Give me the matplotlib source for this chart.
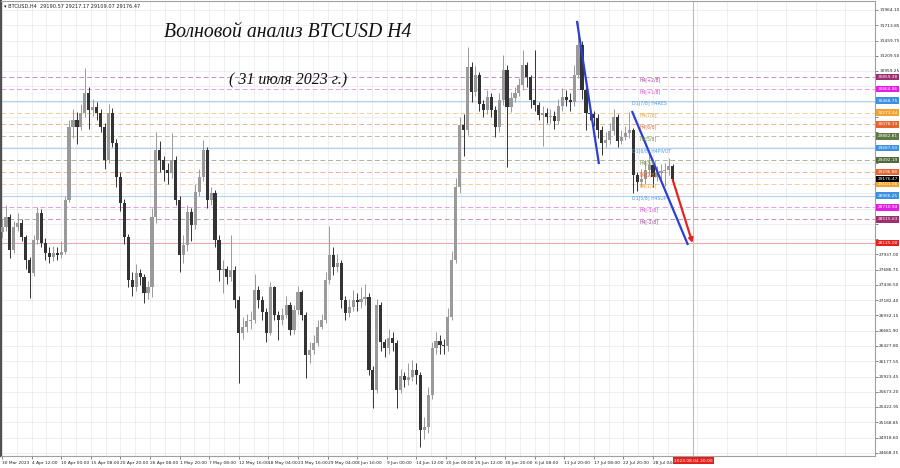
import numpy as np
import matplotlib
matplotlib.use("Agg")
import matplotlib.pyplot as plt
from matplotlib.transforms import blended_transform_factory

# H4 candles, one slot ~ 4.4 H4 bars
first_open = 28300
closes = [
    28388, 28553, 28009, 28388, 28454, 28223, 27844, 27630, 28174, 28619,
    28124, 27960, 27894, 27960, 27930, 27980, 28833, 30036, 30151, 30036,
    30267, 30596, 30316, 30366, 30267, 30036, 29492, 30267, 29772, 29212,
    28784, 28223, 27515, 27399, 27630, 27564, 27300, 27399, 28553, 29657,
    29492, 29327, 29278, 29492, 28833, 27927, 28091, 28635, 28421, 28965,
    29212, 29657, 28833, 28948, 28174, 27679, 27700, 27564, 27679, 27185,
    26641, 26740, 26839, 26855, 27350, 27185, 26987, 26641, 27399, 26938,
    26855, 26938, 27103, 26691, 27020, 27317, 26938, 26279, 26361, 26476,
    26740, 26855, 27515, 27927, 27729, 27795, 27185, 26971, 27070, 27185,
    27152, 27200, 27234, 26031, 25702, 27103, 26493, 26394, 26559, 26476,
    25702, 25933, 25867, 25916, 26031, 25949, 25043, 25090, 25619, 26394,
    26509, 26443, 26420, 26905, 27844, 29047, 30069, 29987, 31025, 30613,
    30893, 30415, 30316, 30530, 30316, 30036, 30481, 30975, 30366, 30514,
    30596, 30728, 31058, 30860, 30481, 30399, 30234, 30267, 30201, 30220,
    30135, 30382, 30530, 30481, 30440, 30893, 31387, 30646, 30267, 30250,
    30184, 29987, 29772, 29822, 29970, 30201, 29805, 29871, 29937, 29987,
    29245, 29130, 29179, 29327, 29410, 29212, 29278, 29311, 29327, 29393,
    29176,
]
highs = [
    28520, 28750, 28600, 28480, 28620, 28520, 28260, 27900, 28250, 28720,
    28680, 28200, 28050, 28080, 28050, 28150, 28900, 30150, 30330, 30280,
    30420, 31010, 30700, 30500, 30450, 30330, 30100, 30420, 30350, 29830,
    29300, 28850, 28280, 27650, 27780, 27700, 27620, 27500, 28700, 29960,
    29800, 29560, 29450, 29940, 29550, 28900, 28250, 28750, 28700, 29100,
    29350, 29820, 29700, 29050, 29000, 28250, 27850, 27750, 28250, 27750,
    27250, 26900, 26950, 27000, 27620, 27420, 27250, 27050, 27480, 27420,
    27000, 27050, 27250, 27150, 27100, 27420, 27350, 26980, 26500, 26600,
    26850, 26950, 27650, 28400, 28050, 27950, 27850, 27250, 27200, 27350,
    27300, 27400, 27450, 27300, 26100, 27200, 27150, 26550, 26700, 26650,
    26520, 26050, 26000, 26150, 26200, 26150, 26000, 25250, 25750, 26500,
    26650, 26600, 26550, 27050, 28000, 29200, 30200, 30250, 31350, 31100,
    31040, 30950, 30480, 30650, 30600, 30380, 30600, 31220, 31050, 30620,
    30700, 30850, 31300, 31100, 30900, 31300, 30450, 30380, 30350, 30330,
    30300, 30500, 30680, 30650, 30600, 31050, 31770, 31450, 30700, 30380,
    30300, 30250, 30050, 29950, 30100, 30330, 30250, 29980, 30050, 30280,
    30020, 29300, 29350, 29500, 29650, 29450, 29400, 29420, 29450, 29530,
    29420,
]
lows = [
    28200, 28330, 27880, 27960, 28330, 28150, 27700, 27220, 27580, 28100,
    28050, 27850, 27790, 27820, 27850, 27880, 27950, 28800, 29850, 29750,
    29980, 30200, 30000, 30220, 30150, 29950, 29350, 29450, 29700, 29050,
    28650, 28100, 27400, 27250, 27330, 27430, 27130, 27200, 27240, 28450,
    29300, 29150, 29100, 29200, 28750, 27650, 27800, 28000, 28150, 28350,
    28900, 29150, 28700, 28750, 28050, 27500, 27300, 27450, 27500, 27050,
    25820, 26550, 26650, 26700, 26800, 27050, 26850, 26500, 26600, 26850,
    26530, 26780, 26880, 26600, 26620, 26950, 26850, 25900, 26150, 26300,
    26420, 26700, 26800, 27450, 27600, 27650, 27050, 26850, 26900, 27000,
    27000, 27050, 27100, 25950, 25400, 25650, 26350, 26250, 26300, 26350,
    25400, 25650, 25750, 25780, 25850, 25800, 24760, 24900, 25000, 25550,
    26300, 26300, 26300, 26350, 26850, 27800, 28950, 29560, 29900, 30450,
    30550, 30300, 30200, 30250, 30200, 29870, 29950, 30400, 29380, 30280,
    30450, 30550, 30650, 30700, 30350, 30300, 30150, 29720, 30100, 30100,
    30000, 30080, 30300, 30380, 30300, 30380, 30850, 30500, 29980, 30150,
    30050, 29850, 29580, 29700, 29750, 29900, 29700, 29750, 29820, 29850,
    28950, 28980, 29050, 29100, 29250, 29040, 29150, 29180, 29060, 29250,
    29110,
]

date_labels = [
    "30 Mar 2023", "4 Apr 12:00", "10 Apr 00:00", "15 Apr 08:00", "20 Apr 20:00",
    "26 Apr 08:00", "1 May 20:00", "7 May 08:00", "12 May 16:00", "18 May 04:00",
    "23 May 16:00", "29 May 04:00", "3 Jun 16:00", "9 Jun 00:00", "14 Jun 12:00",
    "20 Jun 00:00", "25 Jun 12:00", "30 Jun 20:00", "6 Jul 08:00", "11 Jul 20:00",
    "17 Jul 08:00", "22 Jul 20:00", "28 Jul 04:00",
]
price_ticks = [
    31964.10, 31713.85, 31459.75, 31209.50, 30959.25, 30705.15, 30454.90,
    30204.65, 29950.55, 29700.30, 29446.20, 29195.95, 28945.70, 28691.60,
    28441.35, 28191.10, 27937.00, 27686.75, 27436.50, 27182.40, 26932.15,
    26681.90, 26427.80, 26177.55, 25923.45, 25673.20, 25422.95, 25168.85,
    24918.60, 24668.35,
]

# Murrey levels
level_prices = [30859.38, 30664.06, 30468.75, 30273.44, 30078.13, 29882.81,
                29687.50, 29492.19, 29296.88, 29101.56, 28906.25, 28710.94,
                28515.63]
level_names = ["H4[+2/8]", "H4[+1/8]", "D1[7/8] H4RES", "H4[7/8]", "H4[6/8]",
               "H4[5/8]", "D1[6/8] H4PIVOT", "H4[3/8]", "H4[2/8]", "H4[1/8]",
               "D1[5/8] H4SUP", "H4[-1/8]", "H4[-2/8]"]
level_box = ["#9c2f6f", "#e41fe4", "#3d8fe0", "#f2a232", "#e5652e", "#5c7a44",
             "#3d8fe0", "#4f6b3c", "#e5652e", "#f2a232", "#3d8fe0", "#e41fe4",
             "#9c2f6f"]
level_line = ["#c890b4", "#e79be7", "#b2d2ee", "#f3cf98", "#eeb293", "#b7c0a0",
              "#b2d2ee", "#aab49c", "#eeb293", "#f3cf98", "#b2d2ee", "#e79be7",
              "#c890b4"]
level_text = ["#a0449a", "#d548d5", "#4a98e2", "#ec9f3a", "#e06a35", "#6f8f45",
              "#4a98e2", "#6f8f45", "#e06a35", "#ec9f3a", "#4a98e2", "#d548d5",
              "#a0449a"]

target_price = 28125.00
last_price = 29176.47
future_slot = 175.25
future_label = "2023.08.04 20:00"

wave1_x, wave1_y = [145.75, 151.25], [31766, 29443]
wave2_x, wave2_y = [159.75, 173.75], [30283, 28108]
arrow_x, arrow_y = [170.0, 175.0], [29163, 28124]

BULL = "#9a9a9a"
BEAR = "#333333"

fig = plt.figure(figsize=(9, 4.68), dpi=100)
ax = fig.add_axes([1 / 900, 12 / 468, 874 / 900, 455 / 468])
ax.set_xlim(-0.25, 218.25)
ax.set_ylim(24614, 32112)

# grid, 15 px cells
ax.set_xticks(np.arange(len(date_labels)) * 7.5)
ax.set_xticks(np.arange(len(date_labels) + 7) * 7.5 + 3.75, minor=True)
ax.set_yticks(price_ticks)
ax.grid(True, which="both", color="#e9e9e9", lw=0.5, zorder=0)
ax.set_axisbelow(True)

# level lines
for p, c in zip(level_prices, level_line):
    solid = c == "#b2d2ee"
    ax.axhline(p, color=c, lw=0.8 if solid else 0.7,
               ls="-" if solid else (0, (5, 3)), zorder=1)
ax.axhline(target_price, color="#eaa8a8", lw=0.8, zorder=1)
ax.axvline(future_slot, color="#eaa8a8", lw=0.8, zorder=1)

# candles
x = np.arange(len(closes))
c = np.array(closes, float)
o = np.r_[first_open, c[:-1]]
col = np.where(c >= o, BULL, BEAR)
ax.vlines(x, lows, highs, colors=col, lw=0.7, zorder=3)
body = np.maximum(np.abs(c - o), 12)
ax.bar(x, body, bottom=np.minimum(o, c), width=0.8, color=col, lw=0, zorder=3)

# wave lines
ax.plot(wave1_x, wave1_y, color="#2b3fd3", lw=1.6, zorder=4)
ax.plot(wave2_x, wave2_y, color="#2b3fd3", lw=1.6, zorder=4)
ax.annotate("", xy=(arrow_x[1], arrow_y[1]), xytext=(arrow_x[0], arrow_y[0]),
            arrowprops=dict(arrowstyle="-|>", color="#e8231f", lw=1.6,
                            mutation_scale=6, shrinkA=0, shrinkB=0), zorder=5)

# level texts inside the chart
for p, name, tc in zip(level_prices, level_names, level_text):
    xs = 159.75 if name.startswith("D1") else 161.5
    ax.text(xs, p, name, fontsize=3.3, color=tc, ha="left", va="top", zorder=6)

# right price scale; labels hidden under the coloured boxes are left blank
box_prices = level_prices + [target_price, last_price]
box_colors = level_box + ["#e3201c", "#000000"]
ax.yaxis.tick_right()
ax.tick_params(axis="y", labelsize=3.1, length=2, width=0.5, pad=1,
               colors="#555555", labelcolor="#222222")
ax.set_yticklabels(["" if min(abs(v - b) for b in box_prices) < 90 else f"{v:.2f}"
                    for v in price_ticks])
ax.tick_params(axis="x", labelsize=3.2, length=2, width=0.5, pad=1.5,
               colors="#555555", labelcolor="#222222")
ax.tick_params(which="minor", length=0)
ax.set_xticklabels(date_labels)
for lab in ax.get_xticklabels():
    lab.set_ha("left")

for s in ax.spines.values():
    s.set_color("#a0a0a0")
    s.set_linewidth(0.8)
ax.spines["left"].set_color("#505050")
ax.spines["left"].set_linewidth(1.6)

ty = blended_transform_factory(ax.transAxes, ax.transData)
for p, bc in zip(box_prices, box_colors):
    ax.text(1.003, p, f"{p:.2f}", transform=ty, fontsize=3.1, color="white",
            ha="left", va="center", clip_on=False, zorder=10,
            bbox=dict(boxstyle="square,pad=0.3", fc=bc, ec="none"))

tx = blended_transform_factory(ax.transData, ax.transAxes)
ax.text(future_slot, -0.006, future_label, transform=tx, fontsize=3.2,
        color="white", ha="center", va="top", clip_on=False, zorder=10,
        bbox=dict(boxstyle="square,pad=0.3", fc="#e3201c", ec="none"))

# header and captions
ax.text(0.004, 0.994, "\u25BE BTCUSD,H4  29190.57 29217.17 29109.07 29176.47",
        transform=ax.transAxes, fontsize=3.6, color="#222222", ha="left", va="top")
ax.text(0.186, 0.93, "Волновой анализ BTCUSD H4", transform=ax.transAxes,
        fontsize=14.2, family="Liberation Serif", style="italic", color="#111111",
        ha="left", va="center")
ax.text(0.261, 0.826, "( 31 июля 2023 г.)", transform=ax.transAxes,
        fontsize=11.5, family="Liberation Serif", style="italic", color="#111111",
        ha="left", va="center")

fig.savefig("out.png", dpi=100)
